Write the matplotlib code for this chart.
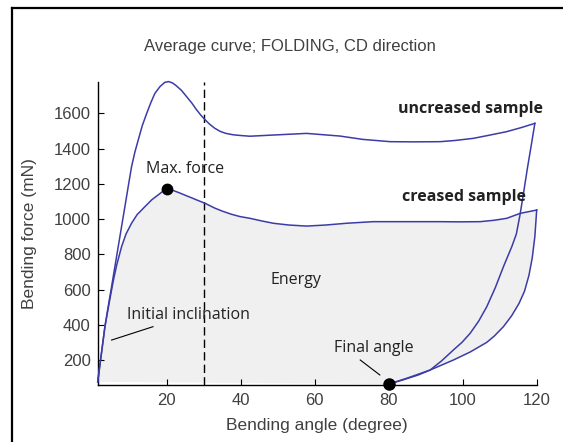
import numpy as np
import matplotlib.pyplot as plt
from matplotlib.lines import Line2D

# curves (angle in degree, force in mN)
unc_load_x = [1.35, 3.3, 4.2, 5.1, 6.0, 6.9, 7.8, 8.7, 9.6, 10.5, 11.4, 12.3, 13.4, 14.6, 15.7, 16.8,
              18.2, 19.5, 20.5, 21.5, 22.5, 24.0, 25.4, 26.8, 28.0, 29.2, 30.4, 31.5, 33.0, 34.5,
              36.0, 38.0, 40.0, 42.5, 50.0, 57.8, 66.8, 73.0, 80.4, 87.0, 93.9, 98.0, 102.9,
              107.0, 111.9, 116.0, 119.5]
unc_load_y = [76, 389, 505, 616, 730, 843, 957, 1070, 1185, 1297, 1380, 1448, 1530, 1600, 1660, 1713,
              1752, 1776, 1780, 1773, 1758, 1730, 1694, 1658, 1622, 1590, 1563, 1540, 1515, 1497,
              1486, 1478, 1474, 1470, 1478, 1486, 1471, 1452, 1439, 1438, 1439, 1446, 1458,
              1475, 1496, 1520, 1543]
unc_ret_x = [119.5, 118.5, 117.5, 116.5, 115.5, 114.5, 113.3, 111.0, 108.8, 106.5, 104.3, 102.0,
             99.8, 97.5, 94.3, 91.2, 88.0, 84.0, 80.0]
unc_ret_y = [1543, 1415, 1290, 1155, 1025, 915, 845, 729, 610, 502, 420, 351,
             300, 257, 195, 143, 115, 88, 63]

cr_load_x = [1.35, 3.3, 4.5, 5.6, 6.5, 7.8, 9.0, 10.5, 12.0, 14.1, 16.0, 17.7, 18.8, 20.0, 21.0,
             22.0, 23.5, 25.0, 27.0, 28.5, 30.4, 33.0, 35.0, 37.5, 39.8, 42.5, 45.5, 48.8, 53.0,
             57.8, 63.0, 68.6, 75.8, 85.0, 93.9, 99.0, 104.7, 108.5, 111.9, 115.5, 120.0]
cr_load_y = [76, 389, 530, 653, 740, 843, 915, 976, 1025, 1070, 1110, 1137, 1155, 1168, 1166,
             1160, 1148, 1135, 1118, 1105, 1089, 1062, 1045, 1027, 1014, 1004, 990, 976, 966,
             960, 966, 976, 985, 985, 985, 984, 985, 993, 1004, 1032, 1051]
cr_ret_x = [120.0, 119.5, 118.8, 117.9, 116.7, 115.2, 113.2, 111.0, 108.5, 106.5, 102.0, 97.5,
            91.2, 85.0, 80.0]
cr_ret_y = [1051, 900, 780, 680, 590, 520, 450, 389, 335, 300, 245, 200,
            143, 97, 63]

max_force = (20.0, 1168)
final_angle = (80.0, 63)

xticks = [20, 40, 60, 80, 100, 120]
yticks = [200, 400, 600, 800, 1000, 1200, 1400, 1600]

W, H = 563, 442
fig = plt.figure(figsize=(W / 100, H / 100), dpi=100)
ax = fig.add_axes([97.7 / W, 57 / H, 439 / W, 303.4 / H])

line_c = '#3c3ca8'
# energy area under the creased sample curve
ax.fill(cr_load_x + cr_ret_x, cr_load_y + cr_ret_y, color='#f0f0f0', lw=0, zorder=1)
for xs, ys in [(unc_load_x, unc_load_y), (unc_ret_x, unc_ret_y),
               (cr_load_x, cr_load_y), (cr_ret_x, cr_ret_y)]:
    ax.plot(xs, ys, color=line_c, lw=1.1, zorder=3, clip_on=False)

ax.axvline(30, color='k', lw=1.0, linestyle=(0, (6, 3)), zorder=2)

ax.plot(*max_force, 'o', color='k', ms=7.5, zorder=5, clip_on=False)
ax.plot(*final_angle, 'o', color='k', ms=8, zorder=5, clip_on=False)

ax.set_xlim(1.35, 120)
ax.set_ylim(58, 1780)
ax.set_xticks(xticks)
ax.set_yticks(yticks)
for s in ['top', 'right']:
    ax.spines[s].set_visible(False)
for s in ['left', 'bottom']:
    ax.spines[s].set_linewidth(1.0)
ax.tick_params(direction='in', length=4, width=0.8, labelsize=12, labelcolor='#404040')
ax.tick_params(axis='x', pad=6)
ax.tick_params(axis='y', pad=5)
for lab in ax.get_xticklabels() + ax.get_yticklabels():
    lab.set_family('Liberation Sans')

ax.set_xlabel('Bending angle (degree)', fontsize=12.5, color='#404040', family='Liberation Sans', labelpad=7)
ax.set_ylabel('Bending force (mN)', fontsize=12.5, color='#404040', family='Liberation Sans', labelpad=12)

fig.text(290 / W, 1 - 47 / H, 'Average curve; FOLDING, CD direction', ha='center', va='center',
         fontsize=12, color='#404040', family='Liberation Sans')

note = dict(family='Open Sans', fontsize=11.5, color='#222222', ha='center', va='center')
ax.text(25, 1283, 'Max. force', **note)
ax.text(55, 654, 'Energy', **note)
ax.text(25.8, 455, 'Initial inclination', **note)
ax.text(76, 268, 'Final angle', **note)
ax.text(102.2, 1624, 'uncreased sample', fontweight='bold', **note)
ax.text(100.4, 1127, 'creased sample', fontweight='bold', **note)
ax.plot([5.1, 16.3], [313, 389], color='k', lw=0.8, zorder=4)
ax.plot([72.3, 77.6], [200, 115], color='k', lw=0.8, zorder=4)

# outer frame of the original screenshot
fig.add_artist(Line2D([12 / W, 12 / W], [0, 1 - 8 / H], transform=fig.transFigure, color='k', lw=1.6))
fig.add_artist(Line2D([12 / W, 1], [1 - 8 / H, 1 - 8 / H], transform=fig.transFigure, color='k', lw=1.6))

fig.savefig('out.png', dpi=100)
